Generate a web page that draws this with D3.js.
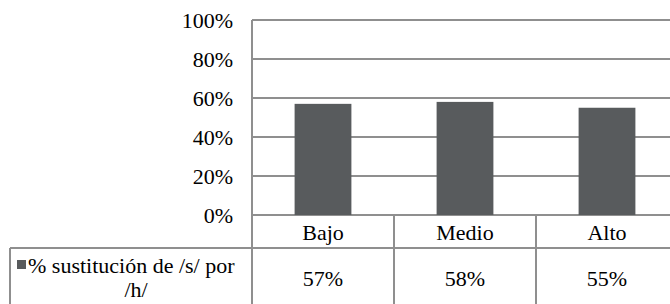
<!DOCTYPE html>
<html>
<head>
<meta charset="utf-8">
<script src="https://cdn.jsdelivr.net/npm/d3@7"></script>
</head>
<body style="margin:0">
<div id="chart"></div>
<script>
// data
const categories = ["Bajo", "Medio", "Alto"];
const values = [0.57, 0.58, 0.55];
const valueLabels = ["57%", "58%", "55%"];
const yTicks = [0, 0.2, 0.4, 0.6, 0.8, 1.0];
const seriesName = ["% sustitución de /s/ por", "/h/"];

const width = 670, height = 304;
const plotLeft = 252, plotRight = 678, plotTop = 20, plotBottom = 215;
const rowCat = 248, rowEnd = 330;
const grid = "#8f8f8f";
const shift = 7.5; // baseline offset for 22px text

const svg = d3.select("#chart").append("svg")
  .attr("width", width)
  .attr("height", height);

const x = d3.scaleBand().domain(categories).range([plotLeft, plotRight]).paddingInner(0).paddingOuter(0);
const y = d3.scaleLinear().domain([0, 1]).range([plotBottom, plotTop]);

function label(sel) {
  sel.attr("font-size", 22)
    .style("font-family", d => `"Liberation Serif"`);
}

// gridlines
svg.selectAll(".grid").data(yTicks).enter().append("line")
  .attr("x1", plotLeft).attr("x2", plotRight)
  .attr("y1", d => y(d)).attr("y2", d => y(d))
  .attr("stroke", grid).attr("stroke-width", 2);

// tick labels
svg.selectAll(".ytick").data(yTicks).enter().append("text")
  .attr("x", 233).attr("y", d => y(d) + shift)
  .attr("text-anchor", "end")
  .call(label)
  .text(d3.format(".0%"));

// bars
const bw = x.bandwidth() * 0.4;
svg.selectAll(".bar").data(values).enter().append("rect")
  .attr("x", (d, i) => x(categories[i]) + x.bandwidth() / 2 - bw / 2)
  .attr("y", d => y(d))
  .attr("width", bw)
  .attr("height", d => y(0) - y(d))
  .attr("fill", "#585b5d");

// table lines
svg.append("line").attr("x1", plotLeft).attr("x2", plotLeft).attr("y1", plotTop).attr("y2", rowEnd)
  .attr("stroke", grid).attr("stroke-width", 2);
svg.append("line").attr("x1", 10).attr("x2", plotRight).attr("y1", rowCat).attr("y2", rowCat)
  .attr("stroke", grid).attr("stroke-width", 2);
svg.append("line").attr("x1", 10).attr("x2", 10).attr("y1", rowCat).attr("y2", rowEnd)
  .attr("stroke", grid).attr("stroke-width", 2);
svg.selectAll(".div").data(categories.slice(1)).enter().append("line")
  .attr("x1", d => x(d)).attr("x2", d => x(d))
  .attr("y1", plotBottom).attr("y2", rowEnd)
  .attr("stroke", grid).attr("stroke-width", 2);

// category labels
svg.selectAll(".cat").data(categories).enter().append("text")
  .attr("x", d => x(d) + x.bandwidth() / 2)
  .attr("y", (plotBottom + rowCat) / 2 + 1 + shift)
  .attr("text-anchor", "middle")
  .call(label)
  .text(d => d);

// value labels
svg.selectAll(".val").data(valueLabels).enter().append("text")
  .attr("x", (d, i) => x(categories[i]) + x.bandwidth() / 2)
  .attr("y", 278 + shift)
  .attr("text-anchor", "middle")
  .call(label)
  .text(d => d);

// legend cell
svg.append("rect").attr("x", 17).attr("y", 260).attr("width", 9).attr("height", 9).attr("fill", "#585b5d");
svg.append("text").datum(seriesName[0]).attr("x", 28).attr("y", 265 + shift)
  .call(label).text(d => d);
svg.append("text").datum(seriesName[1]).attr("x", 136).attr("y", 289 + shift)
  .attr("text-anchor", "middle")
  .call(label).text(d => d);
</script>
</body>
</html>
